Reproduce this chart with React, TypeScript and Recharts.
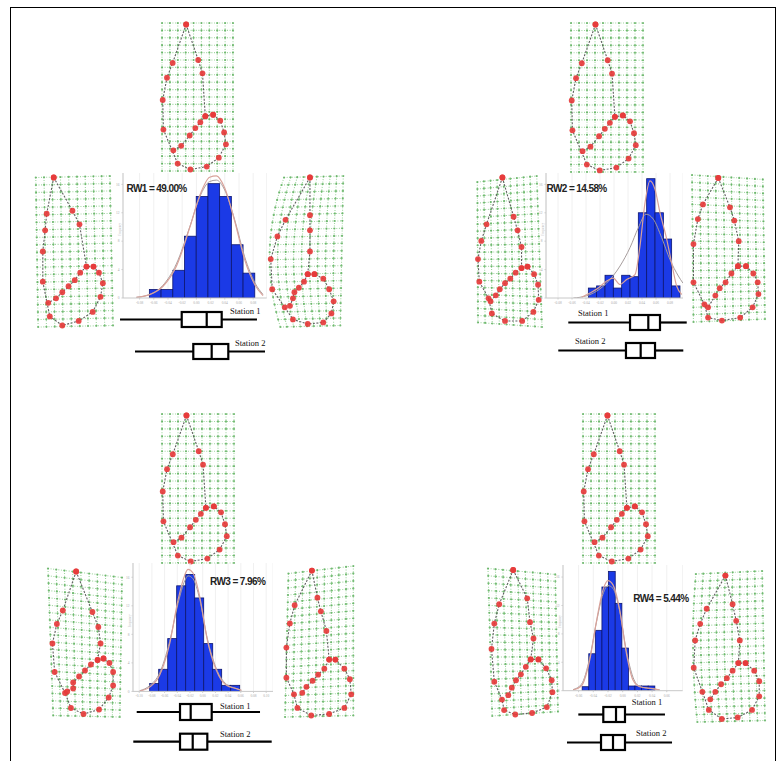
import React from 'react';
import { ComposedChart, BarChart, ScatterChart, Bar, Line, Scatter, XAxis, YAxis, CartesianGrid } from 'recharts';

type P = [number, number];

// ---- histogram data (bin centre as PC score, frequency) ----
const ticks8 = [-0.08, -0.06, -0.04, -0.02, 0, 0.02, 0.04, 0.06, 0.08];
const ticks7 = [-0.06, -0.04, -0.02, 0, 0.02, 0.04, 0.06];
const ticks10 = [-0.1, -0.08, -0.06, -0.04, -0.02, 0, 0.02, 0.04, 0.06, 0.08, 0.1];
const freqTicks = [0, 4, 8, 12, 16];

const rw1Bins = [-0.058, -0.0415, -0.025, -0.0085, 0.008, 0.0245, 0.041, 0.0575, 0.074];
const rw1Freq = [1.2, 1.2, 3.9, 8.7, 14.3, 16.1, 14.3, 7.5, 3.5];
const rw1Kde: P[] = [[-0.0845, 0.09], [-0.0658, 0.47], [-0.047, 1.65], [-0.0282, 4.47], [-0.0094, 9.9], [0.0046, 14.4], [0.0187, 17.0], [0.0282, 17.2], [0.0399, 15.5], [0.054, 10.8], [0.068, 5.4], [0.0821, 1.9], [0.0938, 0.33]];
const rw1Fit: P[] = [[-0.0845, 0.1], [-0.0658, 0.5], [-0.047, 1.8], [-0.0282, 4.8], [-0.0094, 10], [0.0046, 14.2], [0.0187, 16.4], [0.0282, 16.6], [0.0399, 15.2], [0.054, 11], [0.068, 5.8], [0.0821, 2.2], [0.0938, 0.5]];

const rw2Bins = [-0.0307, -0.0189, -0.0069, 0.005, 0.0169, 0.0289, 0.0407, 0.0526, 0.0646, 0.0764, 0.0883];
const rw2Freq = [1.4, 1.7, 3.2, 1.4, 3.2, 3.0, 12, 16.8, 12, 8.3, 1.7];
const rw2Kde: P[] = [[-0.0462, 0.1], [-0.0343, 0.7], [-0.0224, 1.4], [-0.0105, 2.4], [-0.001, 2.8], [0.0086, 1.9], [0.0181, 2.6], [0.03, 3.3], [0.0371, 7.3], [0.0443, 13.4], [0.0514, 16.5], [0.0586, 15.3], [0.0657, 12], [0.0743, 8.7], [0.0824, 4.9], [0.0896, 1.65], [0.0967, 0.5]];
const rw2Fit: P[] = [[-0.058, 0], [-0.0486, 0.1], [-0.0295, 0.7], [-0.0105, 2.1], [0.0086, 4.5], [0.0229, 7.1], [0.0348, 9.9], [0.0457, 11.8], [0.0562, 11.1], [0.0681, 8.5], [0.08, 5.4], [0.0919, 3.1], [0.0985, 2.1]];

const rw3Bins = [-0.0764, -0.0622, -0.048, -0.0339, -0.0197, -0.0055, 0.0087, 0.0228, 0.037, 0.0512];
const rw3Freq = [1.1, 3.1, 7.4, 14.8, 16.4, 13.1, 6.7, 3.1, 0.85, 0.85];
const rw3Kde: P[] = [[-0.0992, 0.05], [-0.0835, 0.6], [-0.0677, 2.3], [-0.052, 6.7], [-0.0389, 12.8], [-0.0283, 16.3], [-0.0231, 17.1], [-0.0153, 16.6], [-0.0047, 13.3], [0.0068, 7.4], [0.0215, 2.96], [0.0373, 0.85], [0.0531, 0.38], [0.0609, 0.14]];
const rw3Fit: P[] = [[-0.0992, 0.1], [-0.0835, 0.8], [-0.0677, 2.6], [-0.052, 7], [-0.0389, 12.3], [-0.0283, 15.5], [-0.0231, 16.2], [-0.0153, 15.8], [-0.0047, 12.9], [0.0068, 7.6], [0.0215, 3.2], [0.0373, 1.0], [0.0531, 0.4], [0.0609, 0.15]];

const rw4Bins = [-0.0506, -0.0416, -0.0327, -0.0237, -0.0147, -0.0057, 0.0033, 0.0122, 0.0212, 0.0302, 0.0392];
const rw4Freq = [0.56, 5.2, 8.5, 14.6, 16.8, 12.3, 6, 0.66, 0.66, 0.66, 0.66];
const rw4Kde: P[] = [[-0.0676, 0.1], [-0.0562, 0.66], [-0.0449, 4.3], [-0.0358, 9.7], [-0.0268, 14.2], [-0.02, 15.5], [-0.0132, 14.9], [-0.0041, 11.4], [0.005, 5.3], [0.014, 1.5], [0.0231, 0.56], [0.0412, 0.28], [0.0503, 0.1]];
const rw4Fit: P[] = [[-0.0676, 0.15], [-0.0562, 0.9], [-0.0449, 4.6], [-0.0358, 9.6], [-0.0268, 13.6], [-0.02, 14.8], [-0.0132, 14.4], [-0.0041, 11.2], [0.005, 5.6], [0.014, 1.9], [0.0231, 0.6], [0.0412, 0.25], [0.0503, 0.1]];

// ---- box plots per station ----
const rw1Box = [
  { station: 'Station 1', min: -0.108, q1: -0.0211, median: 0.0141, q3: 0.0352, max: 0.0849 },
  { station: 'Station 2', min: -0.0869, q1: -0.0048, median: 0.0211, q3: 0.0445, max: 0.0962 },
];
const rw2Box = [
  { station: 'Station 1', min: -0.0653, q1: 0.0229, median: 0.049, q3: 0.0657, max: 0.1039 },
  { station: 'Station 2', min: -0.0796, q1: 0.0171, median: 0.0381, q3: 0.0586, max: 0.099 },
];
const rw3Box = [
  { station: 'Station 1', min: -0.1044, q1: -0.0362, median: -0.0194, q3: 0.0137, max: 0.0898 },
  { station: 'Station 2', min: -0.1098, q1: -0.0362, median: -0.0162, q3: 0.0068, max: 0.1082 },
];
const rw4Box = [
  { station: 'Station 1', min: -0.0608, q1: -0.0268, median: -0.0095, q3: 0.0027, max: 0.0571 },
  { station: 'Station 2', min: -0.0762, q1: -0.0299, median: -0.0136, q3: 0.0027, max: 0.0667 },
];

// ---- landmark configurations (normalised to each grid box) ----
const consensus = {
  outer: [[.34, .01], [.15, .27], [.07, .37], [.01, .52], [.02, .72], [.22, .95], [.40, .99], [.63, .97], [.80, .91], [.90, .82], [.875, .74], [.82, .66], [.72, .62]] as P[],
  inner: [[.72, .62], [.61, .63], [.54, .67], [.47, .71], [.39, .76], [.27, .83], [.16, .86]] as P[],
  upper: [[.34, .01], [.51, .25], [.57, .34], [.61, .63]] as P[],
};
const rw1Minus = {
  outer: [[.24, .01], [.15, .25], [.13, .36], [.10, .50], [.10, .70], [.19, .93], [.35, .99], [.56, .96], [.74, .90], [.84, .80], [.87, .71], [.82, .64], [.75, .60]] as P[],
  inner: [[.75, .60], [.66, .60], [.58, .64], [.51, .69], [.43, .73], [.35, .77], [.27, .81], [.17, .84]] as P[],
  upper: [[.24, .01], [.48, .23], [.57, .32], [.66, .60]] as P[],
};
const rw1Plus = {
  outer: [[.54, .01], [.21, .29], [.10, .40], [.01, .55], [.03, .75], [.20, .87], [.31, .95], [.51, .98], [.72, .97], [.83, .91], [.86, .83], [.80, .75], [.72, .68], [.60, .65]] as P[],
  inner: [[.60, .65], [.51, .65], [.46, .70], [.39, .74], [.33, .77], [.31, .81], [.27, .86]] as P[],
  upper: [[.54, .01], [.54, .26], [.54, .36], [.54, .50], [.51, .65]] as P[],
};
const rw2Minus = {
  outer: [[.40, .01], [.16, .32], [.08, .43], [.03, .55], [.05, .70], [.19, .81], [.24, .91], [.44, .96], [.70, .96], [.87, .90], [.95, .82], [.94, .72], [.88, .65], [.78, .60]] as P[],
  inner: [[.78, .60], [.69, .61], [.60, .64], [.52, .68], [.44, .71], [.36, .75], [.30, .79], [.22, .83]] as P[],
  upper: [[.40, .01], [.57, .27], [.63, .36], [.69, .47], [.69, .61]] as P[],
};
const rw2Plus = {
  outer: [[.36, .02], [.15, .20], [.08, .30], [.02, .47], [.02, .73], [.17, .88], [.22, .97], [.41, .99], [.66, .97], [.83, .90], [.91, .81], [.90, .73], [.84, .67], [.74, .62]] as P[],
  inner: [[.74, .62], [.63, .62], [.54, .67], [.46, .73], [.38, .77], [.32, .82], [.22, .90]] as P[],
  upper: [[.36, .02], [.52, .22], [.58, .31], [.64, .45], [.63, .62]] as P[],
};
const rw3Minus = {
  outer: [[.38, .03], [.20, .29], [.12, .38], [.06, .51], [.09, .70], [.23, .84], [.31, .94], [.48, .98], [.69, .95], [.82, .87], [.88, .79], [.88, .70], [.83, .64], [.75, .61]] as P[],
  inner: [[.75, .61], [.67, .62], [.58, .65], [.50, .69], [.42, .73], [.34, .77], [.34, .81], [.26, .83]] as P[],
  upper: [[.38, .03], [.60, .30], [.68, .40], [.71, .51], [.67, .62]] as P[],
};
const rw3Plus = {
  outer: [[.39, .03], [.14, .26], [.07, .38], [.02, .54], [.02, .74], [.13, .85], [.18, .94], [.38, .99], [.64, .98], [.86, .94], [.96, .85], [.94, .75], [.86, .68], [.73, .62]] as P[],
  inner: [[.73, .62], [.64, .62], [.57, .68], [.48, .72], [.40, .76], [.31, .80], [.25, .84]] as P[],
  upper: [[.39, .03], [.47, .21], [.52, .30], [.60, .43], [.64, .62]] as P[],
};
const rw4Minus = {
  outer: [[.36, .02], [.16, .25], [.09, .38], [.05, .55], [.09, .77], [.20, .89], [.23, .96], [.39, .99], [.63, .98], [.84, .94], [.92, .84], [.91, .76], [.83, .68], [.72, .62]] as P[],
  inner: [[.72, .62], [.61, .62], [.54, .67], [.47, .72], [.40, .76], [.34, .81], [.29, .86]] as P[],
  upper: [[.36, .02], [.56, .21], [.60, .37], [.65, .48], [.61, .62]] as P[],
};
const rw4Plus = {
  outer: [[.45, .03], [.19, .25], [.10, .35], [.03, .46], [.01, .64], [.13, .80], [.22, .92], [.40, .98], [.62, .97], [.82, .92], [.92, .83], [.92, .73], [.85, .66], [.73, .61]] as P[],
  inner: [[.73, .61], [.63, .61], [.55, .66], [.47, .71], [.39, .75], [.31, .80], [.24, .85]] as P[],
  upper: [[.45, .03], [.55, .22], [.60, .33], [.65, .46], [.63, .61]] as P[],
};

type Shape = { outer: P[]; inner: P[]; upper: P[] };
type Box = { x: number; y: number; w: number; h: number };

const GRID_COLS = 9;
const GRID_ROWS = 20;
const square: P[] = [[0, 0], [1, 0], [0, 1], [1, 1]];

const noDot = () => <g />;
const greenDot = (p: any) => <circle cx={p.cx} cy={p.cy} r={1.1} fill="#5aad5a" fillOpacity={0.8} />;
const redDot = (p: any) => <circle cx={p.cx} cy={p.cy} r={2.9} fill="#e63b3b" fillOpacity={0.92} />;

const DeformGrid = ({ box, shape, corners = square, bulge = 0 }: { box: Box; shape: Shape; corners?: P[]; bulge?: number }) => {
  const pad = 5;
  const [tl, tr, bl, br] = corners;
  // warp of the regular lattice inside the grid box
  const warp = (u: number, v: number) => {
    const x = (1 - v) * ((1 - u) * tl[0] + u * tr[0]) + v * ((1 - u) * bl[0] + u * br[0]) + (1 - u) * bulge * 4 * v * (1 - v);
    const y = (1 - v) * ((1 - u) * tl[1] + u * tr[1]) + v * ((1 - u) * bl[1] + u * br[1]);
    return { x, y };
  };
  const rows = Array.from({ length: GRID_ROWS + 1 }, (_, j) =>
    Array.from({ length: GRID_COLS + 1 }, (_, i) => warp(i / GRID_COLS, j / GRID_ROWS)));
  const cols = Array.from({ length: GRID_COLS + 1 }, (_, i) =>
    Array.from({ length: GRID_ROWS + 1 }, (_, j) => warp(i / GRID_COLS, j / GRID_ROWS)));
  const toXY = (pts: P[]) => pts.map(([x, y]) => ({ x, y }));
  const landmarks = toXY([...shape.outer, ...shape.inner, ...shape.upper]);
  return (
    <div style={{ position: 'absolute', left: box.x - pad, top: box.y - pad }}>
      <ScatterChart width={box.w + 2 * pad} height={box.h + 2 * pad} margin={{ top: 0, right: 0, bottom: 0, left: 0 }}>
        <XAxis type="number" dataKey="x" domain={[-pad / box.w, 1 + pad / box.w]} allowDataOverflow hide />
        <YAxis type="number" dataKey="y" domain={[-pad / box.h, 1 + pad / box.h]} allowDataOverflow hide reversed />
        {[...rows, ...cols].map((pts, k) => (
          <Scatter key={`g${k}`} data={pts} shape={noDot} line={{ stroke: '#9fd79f', strokeWidth: 1.1, strokeDasharray: '1 1.6' }} isAnimationActive={false} />
        ))}
        <Scatter data={rows.flat()} shape={greenDot} isAnimationActive={false} />
        {[shape.outer, shape.inner, shape.upper].map((path, k) => (
          <Scatter key={`o${k}`} data={toXY(path)} shape={noDot} line={{ stroke: '#5f5f5f', strokeWidth: 1.1, strokeDasharray: '2 1.5' }} isAnimationActive={false} />
        ))}
        <Scatter data={landmarks} shape={redDot} isAnimationActive={false} />
      </ScatterChart>
    </div>
  );
};

type Plot = { left: number; top: number; width: number; height: number };

const Histogram = ({ plot, zeroPx, pxPerUnit, binPx, ymax, bins, freq, fit, kde, xTicks }: {
  plot: Plot; zeroPx: number; pxPerUnit: number; binPx: number; ymax: number;
  bins: number[]; freq: number[]; fit: P[]; kde: P[]; xTicks: number[];
}) => {
  const yw = 8;
  const xh = 7;
  const domain = [(plot.left - zeroPx) / pxPerUnit, (plot.left + plot.width - zeroPx) / pxPerUnit];
  const data = bins.map((x, i) => ({ x, n: freq[i] }));
  const tick = { fontSize: 3.5, fill: '#aaa' };
  // each bar keeps its centre from the axis scale, drawn one bin wide
  const binShape = (p: any) => (
    <rect x={p.x + p.width / 2 - binPx / 2} y={p.y} width={binPx} height={p.height}
      fill="#1b3ae6" stroke="#0d1670" strokeWidth={0.8} />
  );
  return (
    <div style={{ position: 'absolute', left: plot.left - yw, top: plot.top }}>
      <ComposedChart width={plot.width + yw} height={plot.height + xh} data={data} margin={{ top: 0, right: 0, bottom: 0, left: 0 }}>
        <CartesianGrid horizontal={false} stroke="#f0f0f0" />
        <XAxis dataKey="x" type="number" domain={domain} allowDataOverflow ticks={xTicks} interval={0}
          tickFormatter={(v: number) => v.toFixed(2)} tick={tick} tickSize={1.5} height={xh}
          axisLine={{ stroke: '#c8c8c8' }} tickLine={{ stroke: '#ccc' }} />
        <YAxis type="number" domain={[0, ymax]} allowDataOverflow ticks={freqTicks} interval={0} tick={tick} tickSize={1.5}
          width={yw} axisLine={{ stroke: '#c8c8c8' }} tickLine={{ stroke: '#ccc' }}
          label={{ value: 'Frequency', angle: -90, position: 'insideLeft', fontSize: 3, fill: '#bbb' }} />
        <Bar dataKey="n" shape={binShape} isAnimationActive={false} />
        <Line data={fit.map(([x, y]) => ({ x, y }))} dataKey="y" type="monotone" stroke="#a79d9d" strokeWidth={1} dot={false} isAnimationActive={false} />
        <Line data={kde.map(([x, y]) => ({ x, y }))} dataKey="y" type="monotone" stroke="#d9a29a" strokeWidth={1.2} dot={false} isAnimationActive={false} />
      </ComposedChart>
    </div>
  );
};

const BoxShape = (props: any) => {
  const { x, y, width, height, payload } = props;
  const px = (v: number) => x + ((v - payload.min) / (payload.max - payload.min)) * width;
  const cy = y + height / 2;
  return (
    <g stroke="#000" strokeWidth={2.2}>
      <line x1={x} x2={px(payload.q1)} y1={cy} y2={cy} />
      <line x1={px(payload.q3)} x2={x + width} y1={cy} y2={cy} />
      <rect x={px(payload.q1)} y={y} width={px(payload.q3) - px(payload.q1)} height={height} fill="#fff" />
      <line x1={px(payload.median)} x2={px(payload.median)} y1={y} y2={y + height} />
    </g>
  );
};

const BoxPlots = ({ chart, zeroPx, pxPerUnit, rows, boxH }: {
  chart: Plot; zeroPx: number; pxPerUnit: number; rows: typeof rw1Box; boxH: number;
}) => {
  const domain = [(chart.left - zeroPx) / pxPerUnit, (chart.left + chart.width - zeroPx) / pxPerUnit];
  return (
    <div style={{ position: 'absolute', left: chart.left, top: chart.top }}>
      <BarChart layout="vertical" width={chart.width} height={chart.height} data={rows} margin={{ top: 0, right: 0, bottom: 0, left: 0 }}>
        <XAxis type="number" domain={domain} allowDataOverflow hide />
        <YAxis type="category" dataKey="station" hide />
        <Bar dataKey={(d: any) => [d.min, d.max]} barSize={boxH} shape={BoxShape} isAnimationActive={false} />
      </BarChart>
    </div>
  );
};

const Txt = ({ x, y, children, station }: { x: number; y: number; children: React.ReactNode; station?: boolean }) => (
  <div style={station
    ? { position: 'absolute', left: x, top: y, fontFamily: '"Liberation Serif", "Times New Roman", serif', fontSize: 8.5, lineHeight: 1, color: '#111', whiteSpace: 'nowrap' }
    : { position: 'absolute', left: x, top: y, fontFamily: '"Liberation Sans", Arial, sans-serif', fontWeight: 700, fontSize: 10, letterSpacing: -0.6, lineHeight: 1, color: '#222', whiteSpace: 'nowrap' }}>
    {children}
  </div>
);

export default function App() {
  return (
    <div style={{ position: 'absolute', left: 0, top: 0, width: 784, height: 761, overflow: 'hidden', background: '#fff' }}>
      <div style={{ position: 'absolute', left: 10, top: 7, width: 766, height: 800, border: '1px solid #000', boxSizing: 'border-box' }} />

      {/* RW1 */}
      <DeformGrid box={{ x: 162, y: 23, w: 71, h: 148 }} shape={consensus} />
      <DeformGrid box={{ x: 35, y: 176, w: 78, h: 151 }} shape={rw1Minus} corners={[[.01, .01], [.96, 0], [.04, 1], [1, .99]]} />
      <DeformGrid box={{ x: 270, y: 176, w: 74, h: 151 }} shape={rw1Plus} corners={[[.19, .01], [.99, 0], [.14, 1], [.95, .99]]} bulge={-0.17} />
      <Histogram plot={{ left: 123.3, top: 173.3, width: 143.7, height: 125 }} zeroPx={196.7} pxPerUnit={710} binPx={11.7} ymax={17.6}
        bins={rw1Bins} freq={rw1Freq} fit={rw1Fit} kde={rw1Kde} xTicks={ticks8} />
      <Txt x={126.5} y={183.5}>RW1 = 49.00%</Txt>
      <BoxPlots chart={{ left: 110, top: 303, width: 165, height: 64 }} zeroPx={196.7} pxPerUnit={710} rows={rw1Box} boxH={15} />
      <Txt x={230} y={306.5} station>Station 1</Txt>
      <Txt x={235} y={338.5} station>Station 2</Txt>

      {/* RW2 */}
      <DeformGrid box={{ x: 571, y: 23, w: 72, h: 149 }} shape={consensus} />
      <DeformGrid box={{ x: 476, y: 176, w: 66, h: 151 }} shape={rw2Minus} corners={[[.02, .04], [.92, 0], [.03, .97], [1, 1]]} />
      <DeformGrid box={{ x: 692, y: 175, w: 73, h: 147 }} shape={rw2Plus} corners={[[0, 0], [.97, .03], [.02, 1], [1, .98]]} />
      <Histogram plot={{ left: 546, top: 173.3, width: 137, height: 125 }} zeroPx={614} pxPerUnit={700} binPx={8.33} ymax={17.6}
        bins={rw2Bins} freq={rw2Freq} fit={rw2Fit} kde={rw2Kde} xTicks={ticks8} />
      <Txt x={546.5} y={183.5}>RW2 = 14.58%</Txt>
      <BoxPlots chart={{ left: 550, top: 307.7, width: 145, height: 56 }} zeroPx={614} pxPerUnit={700} rows={rw2Box} boxH={15} />
      <Txt x={578} y={308.5} station>Station 1</Txt>
      <Txt x={575} y={336.5} station>Station 2</Txt>

      {/* RW3 */}
      <DeformGrid box={{ x: 162, y: 414, w: 72, h: 149 }} shape={consensus} />
      <DeformGrid box={{ x: 48, y: 567, w: 74, h: 150 }} shape={rw3Minus} corners={[[0, .01], [1, .07], [.07, .99], [.97, 1]]} />
      <DeformGrid box={{ x: 285, y: 566, w: 69, h: 151 }} shape={rw3Plus} corners={[[.05, .05], [.99, 0], [0, 1], [.99, .99]]} />
      <Histogram plot={{ left: 133.3, top: 563.3, width: 140, height: 128.4 }} zeroPx={203} pxPerUnit={635} binPx={9} ymax={18}
        bins={rw3Bins} freq={rw3Freq} fit={rw3Fit} kde={rw3Kde} xTicks={ticks10} />
      <Txt x={210} y={577}>RW3 = 7.96%</Txt>
      <BoxPlots chart={{ left: 125, top: 697, width: 155, height: 59.4 }} zeroPx={203} pxPerUnit={635} rows={rw3Box} boxH={16} />
      <Txt x={220} y={701.5} station>Station 1</Txt>
      <Txt x={220} y={729.5} station>Station 2</Txt>

      {/* RW4 */}
      <DeformGrid box={{ x: 583, y: 414, w: 72, h: 149 }} shape={consensus} />
      <DeformGrid box={{ x: 488, y: 567, w: 70, h: 149 }} shape={rw4Minus} corners={[[0, .01], [.96, .05], [.06, 1], [1, .97]]} />
      <DeformGrid box={{ x: 693, y: 571, w: 72, h: 151 }} shape={rw4Plus} corners={[[.04, .02], [.96, 0], [.06, 1], [1, .99]]} bulge={-0.05} />
      <Histogram plot={{ left: 563.3, top: 565, width: 119.7, height: 125.7 }} zeroPx={623} pxPerUnit={735} binPx={6.67} ymax={17.7}
        bins={rw4Bins} freq={rw4Freq} fit={rw4Fit} kde={rw4Kde} xTicks={ticks7} />
      <Txt x={633.3} y={593.5}>RW4 = 5.44%</Txt>
      <BoxPlots chart={{ left: 560, top: 699.5, width: 120, height: 56 }} zeroPx={623} pxPerUnit={735} rows={rw4Box} boxH={15} />
      <Txt x={631.7} y={697.5} station>Station 1</Txt>
      <Txt x={636} y={728.5} station>Station 2</Txt>
    </div>
  );
}
